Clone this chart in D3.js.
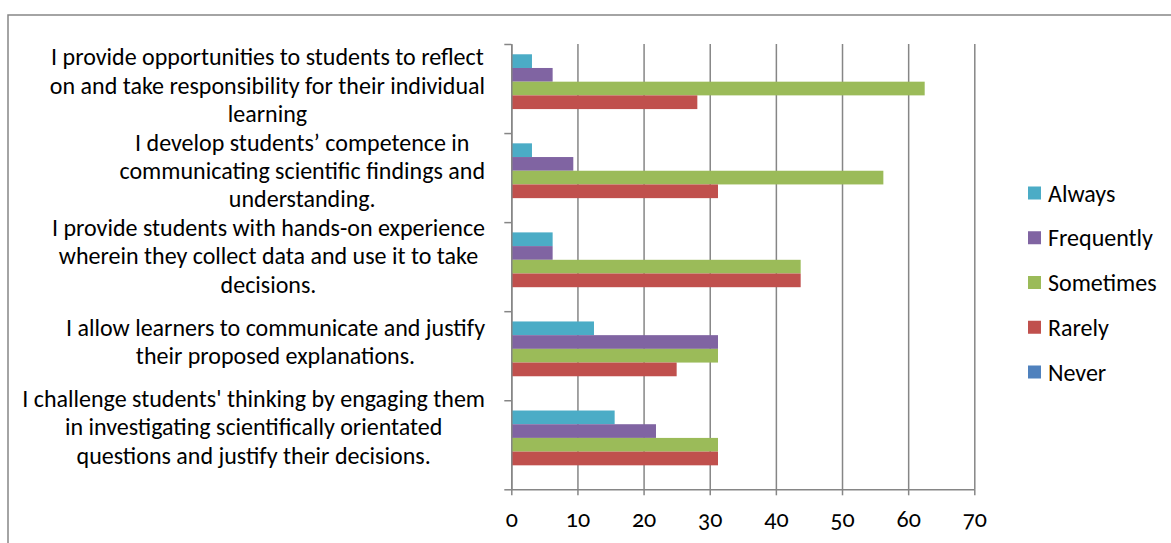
<!DOCTYPE html>
<html>
<head>
<meta charset="utf-8">
<script src="https://cdn.jsdelivr.net/npm/d3@7"></script>
<style>
  html, body { margin: 0; padding: 0; background: #fff; }
  svg { display: block; font-family: Carlito, Calibri, "Open Sans", sans-serif; }
</style>
</head>
<body>
<svg id="chart"></svg>
<script>
const CATEGORIES = [
  ['I provide opportunities to students to reflect', 'on and take responsibility for their individual', 'learning'],
  ['I develop students\u2019 competence in', 'communicating scientific findings and', 'understanding.'],
  ['I provide students with hands-on experience', 'wherein they collect data and use it to take', 'decisions.'],
  ['I allow learners to communicate and justify', 'their proposed explanations.'],
  ['I challenge students\' thinking by engaging them', 'in investigating scientifically orientated', 'questions and justify their decisions.']
];
const SERIES = ['Always', 'Frequently', 'Sometimes', 'Rarely', 'Never'];
const ALWAYS = [3.125, 3.125, 6.25, 12.5, 15.625];
const FREQUENTLY = [6.25, 9.375, 6.25, 31.25, 21.875];
const SOMETIMES = [62.5, 56.25, 43.75, 31.25, 31.25];
const RARELY = [28.125, 31.25, 43.75, 25, 31.25];
const NEVER = [0, 0, 0, 0, 0];
const X_TICKS = [0, 10, 20, 30, 40, 50, 60, 70];

const COLORS = ['#4BACC6', '#8064A2', '#9BBB59', '#C0504D', '#4F81BD'];
const GRID = '#868686';

const WIDTH = 1171;
const HEIGHT = 543;
const PLOT = { left: 511.3, right: 974.3, top: 44, bottom: 489.3 };
const FONT = 24;

const values = [ALWAYS, FREQUENTLY, SOMETIMES, RARELY, NEVER];
const ids = CATEGORIES.map((c, i) => 'c' + i);

const svg = d3.select('#chart')
              .attr('width', WIDTH)
              .attr('height', HEIGHT);

// outer chart border (only top and left show inside the window)
svg.append('rect')
   .attr('x', 8).attr('y', 15)
   .attr('width', WIDTH + 20).attr('height', HEIGHT + 20)
   .attr('fill', 'none')
   .attr('stroke', GRID)
   .attr('stroke-width', 1.5);

const xScale = d3.scaleLinear().domain([0, 70]).range([PLOT.left, PLOT.right]);
const yScale = d3.scaleBand().domain(ids).range([PLOT.top, PLOT.bottom]).padding(0);
const sScale = d3.scaleBand().domain(SERIES).range([0, yScale.bandwidth()])
                 .paddingInner(0).paddingOuter(0.75);
const edgeScale = d3.scaleLinear().domain([0, CATEGORIES.length]).range([PLOT.top, PLOT.bottom]);
// Excel packs the wrapped labels a little tighter than the bands
const labelScale = d3.scalePoint().domain(ids).range([PLOT.top + 41, PLOT.bottom - 62.6]);

// vertical gridlines
svg.append('g')
   .attr('transform', `translate(0, ${PLOT.top})`)
   .call(d3.axisBottom(xScale).tickValues(X_TICKS).tickSize(PLOT.bottom - PLOT.top).tickFormat(''))
   .call(g => g.select('.domain').remove())
   .call(g => g.selectAll('line').attr('stroke', GRID).attr('stroke-width', 1.5));

// bars
SERIES.forEach((s, si) => {
  svg.append('g')
     .selectAll('rect')
     .data(values[si].map((v, i) => ({ id: ids[i], value: v })))
     .enter()
     .append('rect')
     .attr('x', xScale(0))
     .attr('y', d => yScale(d.id) + sScale(s))
     .attr('width', d => xScale(d.value) - xScale(0))
     .attr('height', sScale.bandwidth())
     .attr('fill', COLORS[si]);
});

// category axis: ticks between categories
svg.append('g')
   .attr('transform', `translate(${PLOT.left}, 0)`)
   .call(d3.axisLeft(edgeScale).ticks(CATEGORIES.length).tickSize(7).tickSizeOuter(0).tickFormat(''))
   .call(g => g.select('.domain').attr('stroke', GRID).attr('stroke-width', 1.5))
   .call(g => g.selectAll('line').attr('stroke', GRID).attr('stroke-width', 1.5));

// value axis
const xAxis = svg.append('g')
   .attr('transform', `translate(0, ${PLOT.bottom})`)
   .call(d3.axisBottom(xScale).tickValues(X_TICKS).tickSize(6).tickSizeOuter(0).tickPadding(15))
   .call(g => g.select('.domain').attr('stroke', GRID).attr('stroke-width', 1.5))
   .call(g => g.selectAll('line').attr('stroke', GRID).attr('stroke-width', 1.5));
xAxis.selectAll('text')
     .attr('font-family', 'Carlito, Calibri, "Open Sans", sans-serif')
     .attr('font-size', FONT)
     .attr('fill', '#000')
     .style('font-feature-settings', '"onum" 1');

// category labels, wrapped blocks right-aligned, lines centred in block
const LINE_H = 28.3;
const labelRight = 485;
const labels = svg.append('g')
   .selectAll('g')
   .data(CATEGORIES.map((lines, i) => ({ id: ids[i], lines })))
   .enter()
   .append('g')
   .attr('font-size', FONT);

labels.each(function (d) {
  const g = d3.select(this);
  const n = d.lines.length;
  const texts = g.selectAll('text')
    .data(d.lines)
    .enter()
    .append('text')
    .attr('text-anchor', 'middle')
    .attr('dy', '0.36em')
    .attr('fill', '#000')
    .attr('y', (l, j) => labelScale(d.id) + (j - (n - 1) / 2) * LINE_H)
    .text(l => l);
  const maxW = d3.max(texts.nodes(), t => t.getComputedTextLength());
  texts.attr('x', labelRight - maxW / 2);
});

// legend
const legendY = d3.scalePoint().domain(SERIES).range([193, 372]);
const legend = svg.append('g')
   .selectAll('g')
   .data(SERIES)
   .enter()
   .append('g')
   .attr('transform', d => `translate(1028, ${legendY(d)})`);

legend.append('rect')
      .attr('x', 0).attr('y', -6.5)
      .attr('width', 13).attr('height', 13)
      .attr('fill', (d, i) => COLORS[i]);

legend.append('text')
      .attr('x', 20)
      .attr('dy', '0.36em')
      .attr('font-size', FONT)
      .attr('fill', '#000')
      .text(d => d);
</script>
</body>
</html>
